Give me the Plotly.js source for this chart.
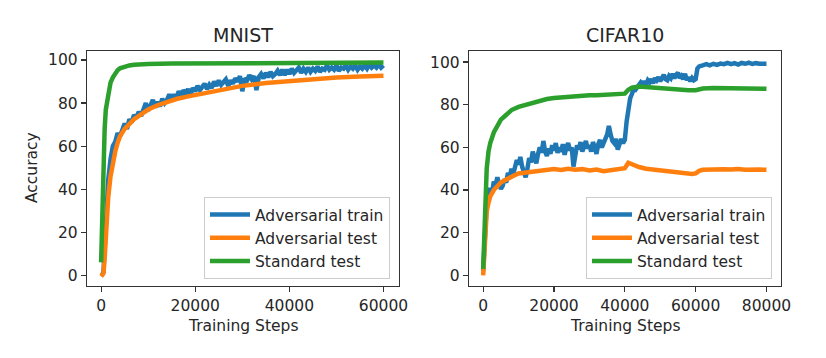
<!DOCTYPE html>
<html><head><meta charset="utf-8">
<script src="https://cdn.plot.ly/plotly-3.0.1.min.js"></script>
<style>html,body{margin:0;padding:0;background:#fff;} #chart{width:826px;height:358px;}</style>
</head><body><div id="chart"></div>
<script>
// ---- MNIST ----
const mnistTrainSteps = [0,250,500,750,1000,1500,2000,2500,3000,3500,
  4000,4500,5000,5500,6000,6500,7000,7500,8000,8500,
  9000,9500,10000,10500,11000,11500,12000,12500,13000,13500,
  14000,14500,15000,15500,16000,16500,17000,17500,18000,18500,
  19000,19500,20000,20500,21000,21500,22000,22500,23000,23500,
  24000,24500,25000,25500,26000,26500,27000,27500,28000,28500,
  29000,29500,30000,30500,31000,31500,32000,32500,33000,33500,
  34000,34500,35000,35500,36000,36500,37000,37500,38000,38500,
  39000,39500,40000,40500,41000,41500,42000,42500,43000,43500,
  44000,44500,45000,45500,46000,46500,47000,47500,48000,48500,
  49000,49500,50000,50500,51000,51500,52000,52500,53000,53500,
  54000,54500,55000,55500,56000,56500,57000,57500,58000,58500,
  59000,59500,60000];
const mnistTrainAcc = [0,0.3,1.5,14,30,44,54,60,62,66,
  64.5,68,70.5,68,72.5,71,74.5,73,76,74,
  77.5,80,76.5,79,81.5,78,80.5,78.5,82,80,
  81.5,84,81.5,84,82.5,85.5,83,86,84.5,86.5,
  84,87,85.5,88,86,87.5,89,86.5,88.5,87,
  90,88,90.5,88.5,89.5,91,88,90.5,89,91.5,
  90,92.5,85.5,91.5,90.5,93,91,92.5,86,92,
  93.5,91.5,94,92,94.5,92.5,93.5,95,93,95.5,
  93,95.5,93.5,96,94,95,96.5,94,96,94.5,
  96.5,94.5,96,95,97,94.5,96,95.5,97.5,95.5,
  96.5,95.5,97.5,95,96.5,96,97.5,95.5,97,96,
  97.5,95.5,97,96,97.5,96,98,96.5,97.5,96.5,
  98,96.5,97.5];
const mnistTestSteps = [0,250,500,750,1000,1250,1500,2000,2500,3000,
  3500,4000,5000,6000,7000,8000,10000,12000,14000,16000,
  18000,20000,25000,30000,35000,40000,45000,50000,55000,60000];
const mnistTestAcc = [-0.5,0,1,8,20,29,36,46,53,57.5,
  61.5,64.5,68,70.5,72.5,74,77,79,80.7,81.9,
  82.9,83.7,86,88,89.3,90.3,91.2,91.9,92.4,92.7];
const mnistStdSteps = [0,250,500,750,1000,1500,2000,2500,3000,3500,
  4000,5000,6000,7000,8000,10000,15000,20000,30000,40000,
  50000,60000];
const mnistStdAcc = [6,30,54,68,77,85,89.5,92,94,95.3,
  96.2,97,97.5,97.8,98,98.2,98.4,98.5,98.6,98.7,
  98.8,98.8];

// ---- CIFAR10 ----
const cifarTrainSteps = [0,250,500,750,1000,1500,2000,2500,3000,3500,
  4000,4500,5000,5500,6000,6500,7000,7500,8000,8500,
  9000,9500,10000,10500,11000,11500,12000,12500,13000,13500,
  14000,14500,15000,15500,16000,16500,17000,17500,18000,18500,
  19000,19500,20000,20500,21000,21500,22000,22500,23000,23500,
  24000,24500,25000,25500,26000,26500,27000,27500,28000,28500,
  29000,29500,30000,30500,31000,31500,32000,32500,33000,33500,
  34000,34500,35000,35500,36000,36500,37000,37500,38000,38500,
  39000,39500,40000,40500,41000,41500,42000,42500,43000,43500,
  44000,44500,45000,45500,46000,46500,47000,47500,48000,48500,
  49000,49500,50000,50500,51000,51500,52000,52500,53000,53500,
  54000,54500,55000,55500,56000,56500,57000,57500,58000,58500,
  59000,59500,60000,60500,61000,62000,63000,64000,65000,66000,
  67000,68000,69000,70000,71000,72000,73000,74000,75000,76000,
  77000,78000,79000,80000];
const cifarTrainAcc = [2,12,22,30,34,37,41,38.5,44,42,
  46,43,40.5,42,45,43.5,48,46,50,47.5,
  51,54,52,55.5,51,49,46,50,55,53,
  58,55,52.5,57,60,57.5,63,58,56,59.5,
  57,61,58.5,62,57.5,60,58,61.5,56.5,60,
  62,58.5,60,51,57,61,59,62.5,58,60.5,
  63,59.5,61,58,62.5,60,57,61.5,63.5,60,
  61.5,64,66,70,66,63,62,64,59,61,
  64,62,63.5,72,80,83,85,87.5,87,88.5,
  89,90.5,89.5,91,89.5,91.5,90.5,92,90,92.5,
  91.5,93,91,92.5,94,92,91.5,93.5,92.5,94.5,
  92.5,94,95,92.5,93.5,92,94.5,91.5,93,91,
  92.5,91.5,92,97,98,98.5,99,98.5,99.2,98.7,
  99.3,99,99.6,99,99.5,98.8,99.6,99.2,99.7,99.1,
  99.5,99.2,99.4,99.2];
const cifarTestSteps = [0,250,500,750,1000,1500,2000,3000,4000,5000,
  6000,7000,8000,9000,10000,12000,14000,16000,18000,20000,
  22000,24000,26000,28000,30000,32000,34000,36000,38000,40000,
  41000,42000,44000,46000,48000,50000,52000,54000,56000,58000,
  59000,60000,61000,62000,64000,66000,68000,70000,72000,74000,
  76000,78000,80000];
const cifarTestAcc = [0,6,16,25,30,34,37,40,42,43.5,
  44.5,45.5,46.5,47,47.8,48.3,48.8,49.3,49.5,49.8,
  49.4,50,49.5,49.8,49.2,49.6,48.8,49.3,49.6,50.2,
  52.8,52,50.8,50,49.6,49.2,49,48.6,48.3,47.8,
  47.5,47.8,49,49.5,49.7,49.4,49.8,49.6,49.9,49.5,
  49.8,49.6,49.5];
const cifarStdSteps = [0,250,500,750,1000,1500,2000,3000,4000,5000,
  6000,7000,8000,10000,12000,14000,16000,18000,20000,22000,
  24000,26000,28000,30000,32000,34000,36000,38000,40000,41000,
  42000,44000,46000,48000,50000,52000,55000,58000,60000,62000,
  65000,70000,75000,80000];
const cifarStdAcc = [3,15,30,42,50,58,62,67,70.5,73,
  74.5,76,77.5,79,80,81,82,82.7,83.2,83.5,
  84,84,84.2,84.5,84.5,84.8,85,85,85.2,87,
  88,88.5,88.2,88,87.8,87.7,87.3,86.8,86.8,87.6,
  87.8,87.7,87.6,87.5];

const seriesNames = ['Adversarial train','Adversarial test','Standard test'];
const colors = ['#1f77b4','#ff7f0e','#2ca02c'];
const yTicks = [0,20,40,60,80,100];
const yTickText = ['0','20','40','60','80','100'];
const mnistXTicks = [0,20000,40000,60000];
const mnistXTickText = ['0','20000','40000','60000'];
const cifarXTicks = [0,20000,40000,60000,80000];
const cifarXTickText = ['0','20000','40000','60000','80000'];

const FONT = 'DejaVu Sans, sans-serif';
const TXT = '#262626';
const LW = 4.5;

function tr(x, y, i, xa, ya, leg) {
  return {x: x, y: y, type: 'scatter', mode: 'lines', name: seriesNames[i],
    line: {color: colors[i], width: LW}, xaxis: xa, yaxis: ya, legend: leg, showlegend: true};
}

const data = [
  tr(mnistTrainSteps, mnistTrainAcc, 0, 'x', 'y', 'legend'),
  tr(mnistTestSteps, mnistTestAcc, 1, 'x', 'y', 'legend'),
  tr(mnistStdSteps, mnistStdAcc, 2, 'x', 'y', 'legend'),
  tr(cifarTrainSteps, cifarTrainAcc, 0, 'x2', 'y2', 'legend2'),
  tr(cifarTestSteps, cifarTestAcc, 1, 'x2', 'y2', 'legend2'),
  tr(cifarStdSteps, cifarStdAcc, 2, 'x2', 'y2', 'legend2')
];

function axis(extra) {
  return Object.assign({
    showgrid: false, zeroline: false, showline: true, mirror: true,
    linecolor: '#333', linewidth: 1.2, ticks: 'outside', ticklen: 5, tickwidth: 1.2,
    tickcolor: '#333', tickfont: {family: FONT, size: 15.5, color: TXT},
    tickmode: 'array', automargin: false, fixedrange: true
  }, extra);
}

const yDom = [(358-286)/358, (358-51)/358];
const legendCommon = {
  font: {family: FONT, size: 15.5, color: TXT},
  bgcolor: 'rgba(255,255,255,0.85)', bordercolor: '#cccccc', borderwidth: 1,
  xanchor: 'right', yanchor: 'bottom', xref: 'paper', yref: 'paper',
  traceorder: 'normal', itemwidth: 40
};

const layout = {
  width: 826, height: 358,
  margin: {l: 0, r: 0, t: 0, b: 0},
  paper_bgcolor: '#ffffff', plot_bgcolor: '#ffffff',
  font: {family: FONT, color: TXT},
  xaxis: axis({domain: [87/826, 399/826], range: [-3000, 63300], tickvals: mnistXTicks, ticktext: mnistXTickText, anchor: 'y'}),
  yaxis: axis({domain: yDom, range: [-5, 104.2], tickvals: yTicks, ticktext: yTickText, anchor: 'x'}),
  xaxis2: axis({domain: [469/826, 781/826], range: [-4000, 84100], tickvals: cifarXTicks, ticktext: cifarXTickText, anchor: 'y2'}),
  yaxis2: axis({domain: yDom, range: [-5, 105.2], tickvals: yTicks, ticktext: yTickText, anchor: 'x2'}),
  legend: Object.assign({x: 390/826, y: (358-279)/358}, legendCommon),
  legend2: Object.assign({x: 772/826, y: (358-279)/358}, legendCommon),
  annotations: [
    {text: 'MNIST', x: 243/826, y: (358-35)/358, xref: 'paper', yref: 'paper', showarrow: false, xanchor: 'center', yanchor: 'middle', font: {family: FONT, size: 19, color: TXT}},
    {text: 'CIFAR10', x: 625/826, y: (358-35)/358, xref: 'paper', yref: 'paper', showarrow: false, xanchor: 'center', yanchor: 'middle', font: {family: FONT, size: 19, color: TXT}},
    {text: 'Accuracy', x: 32/826, y: (358-168)/358, xref: 'paper', yref: 'paper', showarrow: false, textangle: -90, xanchor: 'center', yanchor: 'middle', font: {family: FONT, size: 15.5, color: TXT}},
    {text: 'Training Steps', x: 243/826, y: (358-326)/358, xref: 'paper', yref: 'paper', showarrow: false, xanchor: 'center', yanchor: 'middle', font: {family: FONT, size: 15.5, color: TXT}},
    {text: 'Training Steps', x: 625/826, y: (358-326)/358, xref: 'paper', yref: 'paper', showarrow: false, xanchor: 'center', yanchor: 'middle', font: {family: FONT, size: 15.5, color: TXT}}
  ]
};

Plotly.newPlot('chart', data, layout, {staticPlot: true, displayModeBar: false});
</script>
</body></html>
